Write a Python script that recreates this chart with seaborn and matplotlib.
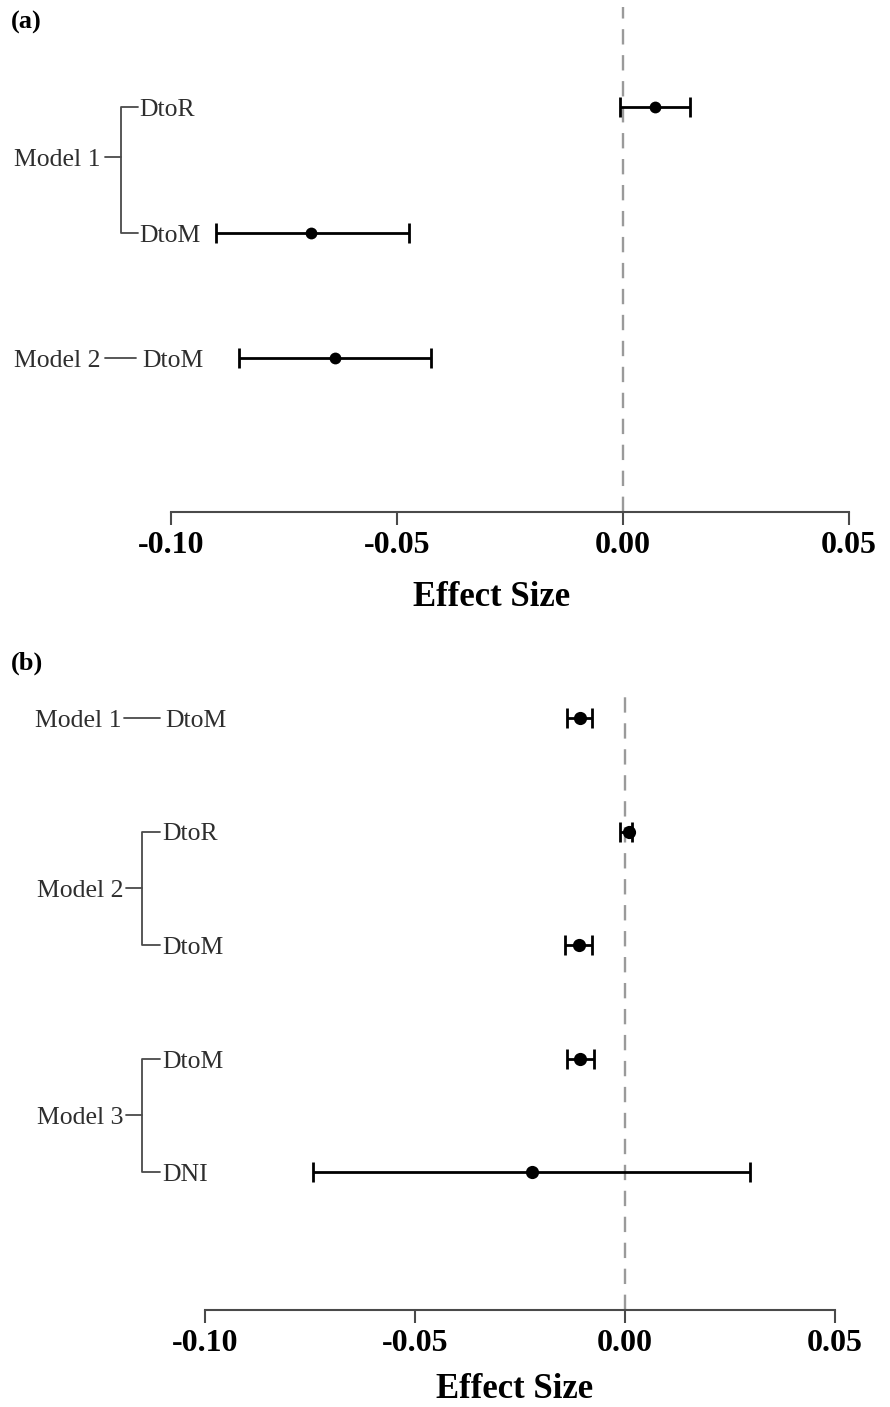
import matplotlib
matplotlib.use("Agg")
import matplotlib.pyplot as plt
import matplotlib.transforms as mtransforms
from matplotlib.lines import Line2D
import seaborn as sns
import pandas as pd

# ---------------- data ----------------
# Panel (a)
a_models = ["Model 1", "Model 1", "Model 2"]
a_terms = ["DtoR", "DtoM", "DtoM"]
a_est = [0.0071, -0.0690, -0.0637]
a_lo = [-0.0007, -0.0900, -0.0849]
a_hi = [0.0148, -0.0473, -0.0425]

# Panel (b)
b_models = ["Model 1", "Model 2", "Model 2", "Model 3", "Model 3"]
b_terms = ["DtoM", "DtoR", "DtoM", "DtoM", "DNI"]
b_est = [-0.0107, 0.0009, -0.0110, -0.0107, -0.0221]
b_lo = [-0.0138, -0.0011, -0.0142, -0.0138, -0.0743]
b_hi = [-0.0079, 0.0016, -0.0079, -0.0074, 0.0298]

x_ticks = [-0.10, -0.05, 0.00, 0.05]
x_ticklabels = ["-0.10", "-0.05", "0.00", "0.05"]
x_title = "Effect Size"
panel_tags = ["(a)", "(b)"]

# ---------------- style ----------------
sns.set_style("white")
plt.rcParams["font.family"] = ["Liberation Serif", "DejaVu Serif"]

W, H = 890, 1407
DPI = 100
fig = plt.figure(figsize=(W / DPI, H / DPI), dpi=DPI)

AX_GRAY = "#4a4a4a"
TXT_GRAY = "#2e2e2e"
LBL_SIZE = 18.5


def fx(px):
    return px / W


def make_axes(left_px, right_px, top_px, bottom_px):
    return fig.add_axes([fx(left_px), 1 - bottom_px / H,
                         (right_px - left_px) / W, (bottom_px - top_px) / H])


def draw_panel(ax, models, terms, est, lo, hi, ylim, dotsize, capsize,
               xlabel_xy, label_layout):
    n = len(est)
    df = pd.DataFrame({"model": models, "term": terms, "est": est,
                       "lo": lo, "hi": hi, "pos": list(range(n))})
    ax.set_xlim(-0.10, 0.05)
    ax.set_ylim(*ylim)

    # zero reference line
    ax.axvline(0, color="#9a9a9a", lw=1.7, dashes=(6.5, 4.5), zorder=1,
               clip_on=False)

    # CI bars
    ax.errorbar(df["est"], df["pos"],
                xerr=[df["est"] - df["lo"], df["hi"] - df["est"]],
                fmt="none", ecolor="black", elinewidth=2.0,
                capsize=capsize, capthick=2.0, zorder=3)
    sns.scatterplot(data=df, x="est", y="pos", ax=ax, color="black",
                    s=dotsize ** 2, edgecolor="black", linewidth=0,
                    zorder=4, legend=False)

    # axes styling
    for s in ["top", "left", "right"]:
        ax.spines[s].set_visible(False)
    ax.spines["bottom"].set_color(AX_GRAY)
    ax.spines["bottom"].set_linewidth(1.5)
    ax.spines["bottom"].set_bounds(-0.10, 0.05)
    ax.set_yticks([])
    ax.set_ylabel("")
    ax.set_xticks(x_ticks)
    ax.set_xticklabels(x_ticklabels, fontsize=23, fontweight="bold",
                       color="black")
    ax.tick_params(axis="x", direction="out", length=9.5, width=1.5,
                   color=AX_GRAY, pad=4, bottom=True)
    ax.set_xlabel(x_title, fontsize=25, fontweight="bold", color="black")
    ax.xaxis.set_label_coords(*xlabel_xy)
    ax.xaxis.label.set_va("center")

    # left-hand hierarchical labels
    tr = mtransforms.blended_transform_factory(fig.transFigure, ax.transData)
    ttr = mtransforms.offset_copy(tr, fig=fig, x=0, y=-9, units="dots")

    def label(xpx, row, s):
        ax.text(fx(xpx), row, s, transform=ttr, fontsize=LBL_SIZE,
                color=TXT_GRAY, va="baseline", ha="left")

    for item in label_layout:
        kind = item[0]
        if kind == "single":
            _, row, mx, line_x0, line_x1, tx = item
            label(mx, row, df["model"][row])
            ax.add_line(Line2D([fx(line_x0), fx(line_x1)], [row, row],
                               transform=tr, color=AX_GRAY, lw=1.3,
                               clip_on=False))
            label(tx, row, df["term"][row])
        else:
            _, rows, mid, mx, dash_x0, vx, hx1, tx = item
            r0, r1 = rows
            label(mx, mid, df["model"][r0])
            ax.add_line(Line2D([fx(dash_x0), fx(vx)], [mid, mid],
                               transform=tr, color=AX_GRAY, lw=1.3,
                               clip_on=False))
            ax.add_line(Line2D([fx(hx1), fx(vx), fx(vx), fx(hx1)],
                               [r0, r0, r1, r1],
                               transform=tr, color=AX_GRAY, lw=1.3,
                               clip_on=False))
            for r in rows:
                label(tx, r, df["term"][r])


# ---------------- panel (a) ----------------
ax_a = make_axes(171, 849, 7, 512)
sp_a = 125.5
draw_panel(ax_a, a_models, a_terms, a_est, a_lo, a_hi,
           ylim=((512 - 107) / sp_a, (7 - 107) / sp_a),
           dotsize=8.5, capsize=7.5,
           xlabel_xy=((492 - 171) / 678, -(597 - 512) / 505),
           label_layout=[
               ("bracket", (0, 1), (157 - 107) / sp_a, 14, 105, 121, 138, 139),
               ("single", 2, 14, 105, 136, 142),
           ])

# ---------------- panel (b) ----------------
ax_b = make_axes(205, 835, 693, 1310)
sp_b = 113.5
draw_panel(ax_b, b_models, b_terms, b_est, b_lo, b_hi,
           ylim=((1310 - 718) / sp_b, (693 - 718) / sp_b),
           dotsize=9.5, capsize=7,
           xlabel_xy=((515 - 205) / 630, -(1390 - 1310) / 617),
           label_layout=[
               ("single", 0, 35, 124, 160, 165),
               ("bracket", (1, 2), 1.5, 37, 126, 142, 160, 162),
               ("bracket", (3, 4), 3.5, 37, 126, 142, 160, 162),
           ])

# panel tags
fig.text(fx(11), 1 - 22 / H, panel_tags[0], fontsize=19, fontweight="bold",
         va="center", ha="left", color="black")
fig.text(fx(11), 1 - 663 / H, panel_tags[1], fontsize=19, fontweight="bold",
         va="center", ha="left", color="black")

fig.savefig("out.png", dpi=DPI, facecolor="white")
